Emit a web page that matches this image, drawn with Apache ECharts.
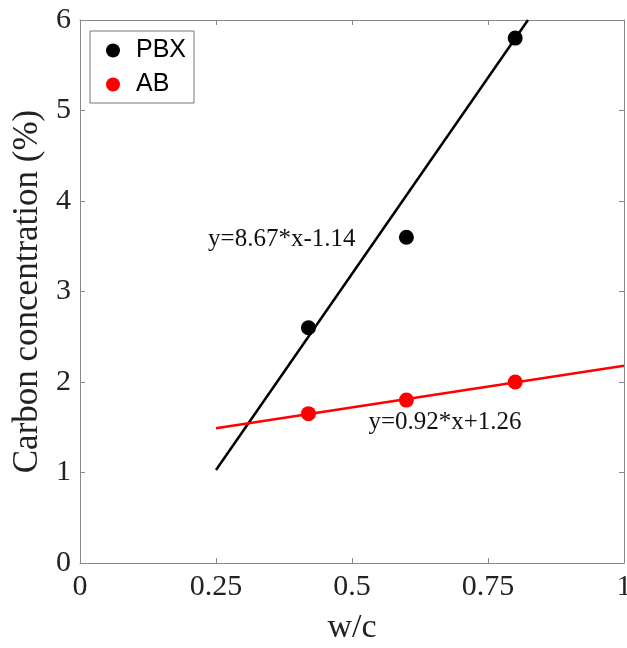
<!DOCTYPE html>
<html><head><meta charset="utf-8">
<script src="https://cdn.jsdelivr.net/npm/echarts@6/dist/echarts.min.js"></script>
<style>html,body{margin:0;padding:0;background:#fff}#c{width:627px;height:648px}</style>
</head><body><div id="c"></div>
<script>
const wc = [0.42, 0.6, 0.8];
const pbx = [2.6, 3.6, 5.8];
const ab = [1.65, 1.8, 2.0];
const pbxFit = [[0.25, 8.67*0.25-1.14], [(6+1.14)/8.67, 6]];
const abFit = [[0.25, 0.92*0.25+1.26], [1, 0.92*1+1.26]];
const pbxEq = 'y=8.67*x-1.14';
const abEq = 'y=0.92*x+1.26';
const xTicks = [0, 0.25, 0.5, 0.75, 1];

const serif = 'Liberation Serif';
const axisCol = '#888';
const chart = echarts.init(document.getElementById('c'));
const common = {
  axisLine: {show: true, onZero: false, lineStyle: {color: axisCol, width: 1}},
  axisTick: {show: true, inside: true, length: 5, lineStyle: {color: axisCol}},
  splitLine: {show: false}
};
chart.setOption({
  animation: false,
  backgroundColor: '#fff',
  grid: {left: 80, right: 3, top: 20, bottom: 85, outerBoundsMode: 'none', containLabel: false},
  legend: {
    left: 90, top: 31, orient: 'vertical',
    data: ['PBX', 'AB'],
    borderColor: '#777', borderWidth: 1, borderRadius: 0,
    padding: [7, 8, 6, 16],
    itemWidth: 30, itemHeight: 14, itemGap: 9,
    textStyle: {fontFamily: 'Liberation Sans', fontSize: 25, color: '#000', padding: [0, 0, 0, 3]},
    selectedMode: false
  },
  xAxis: [
    Object.assign({type: 'value', min: 0, max: 1, interval: 0.25,
      name: 'w/c', nameLocation: 'middle', nameGap: 48,
      nameTextStyle: {fontFamily: serif, fontSize: 34, color: '#222'},
      axisLabel: {fontFamily: serif, fontSize: 30, color: '#222', margin: 9,
        formatter: v => xTicks.includes(v) ? String(v) : ''}}, common),
    Object.assign({type: 'value', min: 0, max: 1, interval: 0.25, position: 'top',
      axisLabel: {show: false}}, common)
  ],
  yAxis: [
    Object.assign({type: 'value', min: 0, max: 6, interval: 1,
      name: 'Carbon concentration (%)', nameLocation: 'middle', nameGap: 28,
      nameTextStyle: {fontFamily: serif, fontSize: 35, color: '#222'},
      axisLabel: {fontFamily: serif, fontSize: 30, color: '#222', margin: 9}}, common),
    Object.assign({type: 'value', min: 0, max: 6, interval: 1, position: 'right',
      axisLabel: {show: false}}, common)
  ],
  series: [
    {name: 'PBXfit', type: 'line', data: pbxFit, symbol: 'none',
      lineStyle: {color: '#000', width: 2.5}, z: 2, silent: true,
      markPoint: {symbol: 'circle', symbolSize: 0,
        data: [{coord: [0.371, 3.58], value: pbxEq}],
        label: {show: true, formatter: pbxEq, fontFamily: serif, fontSize: 25, color: '#111', position: 'inside'}}},
    {name: 'ABfit', type: 'line', data: abFit, symbol: 'none',
      lineStyle: {color: '#f00', width: 2.5}, z: 2, silent: true,
      markPoint: {symbol: 'circle', symbolSize: 0,
        data: [{coord: [0.671, 1.55], value: abEq}],
        label: {show: true, formatter: abEq, fontFamily: serif, fontSize: 25, color: '#111', position: 'inside'}}},
    {name: 'PBX', type: 'scatter', data: wc.map((x, i) => [x, pbx[i]]),
      symbol: 'circle', symbolSize: 15, itemStyle: {color: '#000', opacity: 1}, z: 3},
    {name: 'AB', type: 'scatter', data: wc.map((x, i) => [x, ab[i]]),
      symbol: 'circle', symbolSize: 15, itemStyle: {color: '#f00', opacity: 1}, z: 3}
  ]
});
</script></body></html>
